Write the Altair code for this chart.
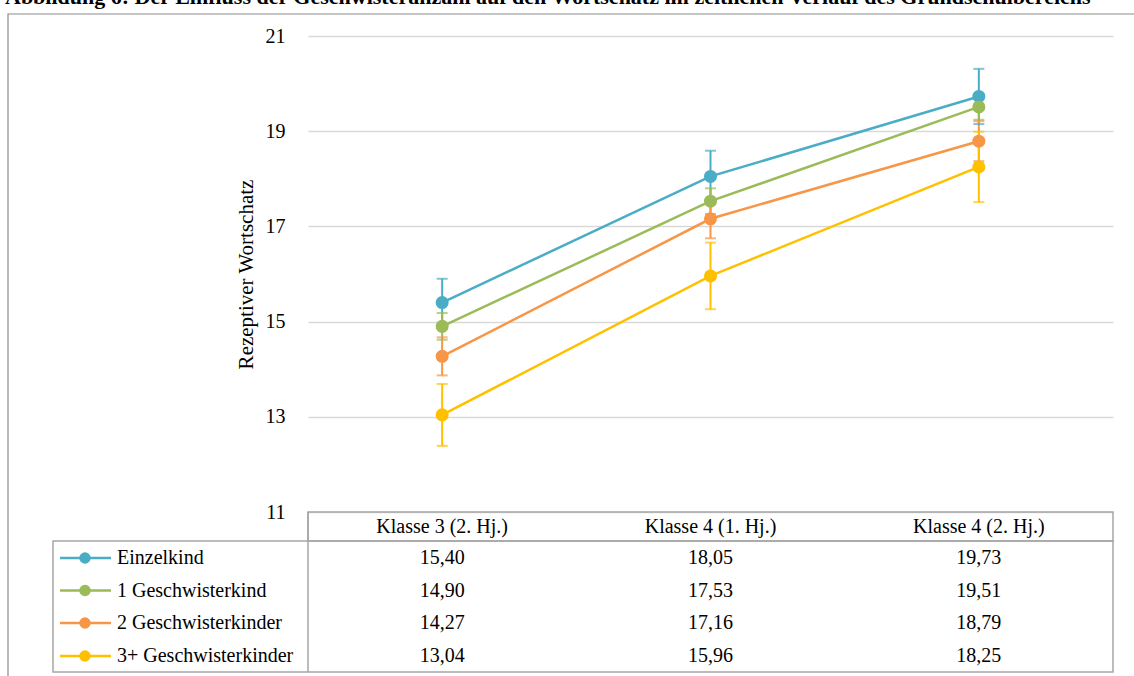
import altair as alt
import pandas as pd

# Measurement points (school terms)
terms = ["Klasse 3 (2. Hj.)", "Klasse 4 (1. Hj.)", "Klasse 4 (2. Hj.)"]

# Groups by number of siblings
groups = ["Einzelkind", "1 Geschwisterkind", "2 Geschwisterkinder", "3+ Geschwisterkinder"]
colors = ["#4bacc6", "#9bbb59", "#f79646", "#ffc000"]

# Mean receptive vocabulary per group and term
means_einzelkind = [15.40, 18.05, 19.73]
means_1_geschw = [14.90, 17.53, 19.51]
means_2_geschw = [14.27, 17.16, 18.79]
means_3plus_geschw = [13.04, 15.96, 18.25]

# Standard errors (half-length of the error bars)
se_einzelkind = [0.50, 0.54, 0.58]
se_1_geschw = [0.28, 0.27, 0.27]
se_2_geschw = [0.40, 0.41, 0.42]
se_3plus_geschw = [0.65, 0.70, 0.74]

y_ticks = [11, 13, 15, 17, 19, 21]

caption = ("Abbildung 6: Der Einfluss der Geschwisteranzahl auf den Wortschatz "
           "im zeitlichen Verlauf des Grundschulbereichs")

means = [means_einzelkind, means_1_geschw, means_2_geschw, means_3plus_geschw]
ses = [se_einzelkind, se_1_geschw, se_2_geschw, se_3plus_geschw]

rows = []
for g, m_list, s_list in zip(groups, means, ses):
    for t, m, s in zip(terms, m_list, s_list):
        rows.append({
            "Gruppe": g,
            "Zeitpunkt": t,
            "Wert": m,
            "lo": m - s,
            "hi": m + s,
            "Label": f"{m:.2f}".replace(".", ","),
        })
df = pd.DataFrame(rows)

FONT = "Liberation Serif"
FS = 20
W, H = 805, 476
GRID = "#d9d9d9"
BORDER = "#a6a6a6"

x_enc = alt.X("Zeitpunkt:N", sort=terms,
              scale=alt.Scale(type="point", domain=terms, padding=0.5),
              axis=None)
y_scale = alt.Scale(domain=[11, 21], nice=False, zero=False)
color_enc = alt.Color("Gruppe:N", sort=groups,
                      scale=alt.Scale(domain=groups, range=colors),
                      legend=None)

base = alt.Chart(df)

lines = base.mark_line(strokeWidth=2.5).encode(
    x=x_enc,
    y=alt.Y("Wert:Q", scale=y_scale,
            axis=alt.Axis(values=y_ticks, title="Rezeptiver Wortschatz",
                          domain=False, ticks=False, grid=True,
                          gridColor=GRID, gridWidth=1.5,
                          labelFont=FONT, labelFontSize=FS, labelColor="black",
                          labelPadding=23,
                          titleFont=FONT, titleFontSize=FS + 1, titleFontWeight="normal",
                          titleColor="black", titlePadding=9)),
    color=color_enc,
    order=alt.Order("Zeitpunkt:N"),
)

err = base.mark_rule(strokeWidth=2).encode(
    x=x_enc, y=alt.Y("lo:Q", scale=y_scale), y2="hi:Q", color=color_enc)
cap_lo = base.mark_tick(size=11, thickness=2, orient="horizontal").encode(
    x=x_enc, y=alt.Y("lo:Q", scale=y_scale), color=color_enc)
cap_hi = base.mark_tick(size=11, thickness=2, orient="horizontal").encode(
    x=x_enc, y=alt.Y("hi:Q", scale=y_scale), color=color_enc)

points = base.mark_circle(size=170, opacity=1).encode(
    x=x_enc, y=alt.Y("Wert:Q", scale=y_scale), color=color_enc)

layers = [lines, err, cap_lo, cap_hi, points]

one = pd.DataFrame({"k": [0]})

# Outer frame
layers.append(alt.Chart(one).mark_rect(fill=None, stroke="#8c8c8c", strokeWidth=1.2).encode(
    x=alt.value(-300), x2=alt.value(840), y=alt.value(-22), y2=alt.value(700)))

# Caption line above the frame
layers.append(alt.Chart(one).mark_text(
    font=FONT, fontSize=22, fontWeight="bold", align="left", baseline="alphabetic",
    color="black", text=caption).encode(x=alt.value(-303), y=alt.value(-32)))

# Data table: header box, body box and separator
layers.append(alt.Chart(one).mark_rect(fill=None, stroke=BORDER, strokeWidth=1.5).encode(
    x=alt.value(0), x2=alt.value(W), y=alt.value(H), y2=alt.value(H + 29)))
layers.append(alt.Chart(one).mark_rect(fill=None, stroke=BORDER, strokeWidth=1.5).encode(
    x=alt.value(-255), x2=alt.value(W), y=alt.value(H + 29), y2=alt.value(H + 160)))
layers.append(alt.Chart(one).mark_rule(stroke=BORDER, strokeWidth=1.5).encode(
    x=alt.value(0), y=alt.value(H), y2=alt.value(H + 160)))

# Column headers
hdr = pd.DataFrame({"Zeitpunkt": terms})
layers.append(alt.Chart(hdr).mark_text(font=FONT, fontSize=FS, color="black").encode(
    x=x_enc, y=alt.value(H + 15), text="Zeitpunkt:N"))

# Table rows with legend swatches
row_y = [H + 46, H + 78.5, H + 111, H + 144]
for g, c, ry in zip(groups, colors, row_y):
    sub = df[df["Gruppe"] == g]
    layers.append(alt.Chart(sub).mark_text(font=FONT, fontSize=FS, color="black").encode(
        x=x_enc, y=alt.value(ry), text="Label:N"))
    sw = pd.DataFrame({"Gruppe": [g]})
    layers.append(alt.Chart(sw).mark_rule(color=c, strokeWidth=2.5).encode(
        x=alt.value(-248), x2=alt.value(-197), y=alt.value(ry)))
    layers.append(alt.Chart(sw).mark_circle(color=c, size=130, opacity=1).encode(
        x=alt.value(-223), y=alt.value(ry)))
    layers.append(alt.Chart(sw).mark_text(font=FONT, fontSize=FS, color="black",
                                          align="left").encode(
        x=alt.value(-191), y=alt.value(ry), text="Gruppe:N"))

chart = alt.layer(*layers).properties(
    width=W, height=H,
    autosize=alt.AutoSizeParams(type="none"),
    padding={"left": 308, "top": 36, "right": 21, "bottom": 164},
    background="white",
).configure_view(stroke=None)

chart.save("out.html", embed_options={"renderer": "svg", "actions": False})
